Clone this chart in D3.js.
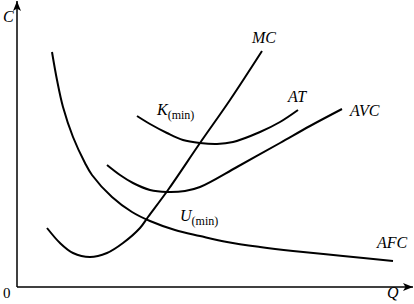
<!DOCTYPE html>
<html>
<head>
<meta charset="utf-8">
<script src="https://cdn.jsdelivr.net/npm/d3@7"></script>
<style>
  body { margin: 0; background: #fff; }
</style>
</head>
<body>
<div id="chart"></div>
<script>
// Cost curves (Q = quantity, C = cost, arbitrary units)
let afc = [[35,235],[40,207],[46,180],[56,150],[68,124],[75,112],[95,90],[115,75],
           [133,66],[158,57],[183,51],[210,45],[243,40],[276,36],[326,31],[376,26]];
let mc  = [[30,59],[43,44],[56,34],[73,30],[90,34],[106,44],[123,59],[131,70],
           [151,97],[183,144],[213,187],[245,236]];
let avc = [[90,122],[103,112],[116,104],[133,97],[150,95],[168,96],[183,100],
           [220,120],[263,144],[293,161],[325,178]];
let at  = [[120,171],[133,163],[150,154],[166,147],[183,144],[200,143],[216,145],
           [243,155],[263,165],[281,177]];

let curves = [afc, mc, avc, at];

// curve names and where they sit
let labels = [
  { text: "MC",  sub: "",      q: 235, c: 244 },
  { text: "AT",  sub: "",      q: 271, c: 185 },
  { text: "AVC", sub: "",      q: 333, c: 171 },
  { text: "K",   sub: "(min)", q: 140, c: 172 },
  { text: "U",   sub: "(min)", q: 163, c: 66 },
  { text: "AFC", sub: "",      q: 360, c: 39 }
];

let width = 414;
let height = 304;
let serif = "'Liberation Serif', 'Times New Roman', serif";

let svg = d3.select("#chart")
  .append("svg")
  .attr("width", width).attr("height", height)
  .style("font-family", serif);

let xScale = d3.scaleLinear().domain([0, 395]).range([17, 412]);
let yScale = d3.scaleLinear().domain([0, 284]).range([287, 3]);

// arrow heads
let defs = svg.append("defs");
defs.append("marker")
  .attr("id", "arrow")
  .attr("viewBox", "0 0 10 8")
  .attr("refX", 10).attr("refY", 4)
  .attr("markerWidth", 10).attr("markerHeight", 8)
  .attr("markerUnits", "userSpaceOnUse")
  .attr("orient", "auto")
  .append("path")
  .attr("d", "M0,0 L10,4 L0,8 L2.5,4 Z")
  .style("fill", "#000");

// axes
svg.append("line")
  .attr("x1", xScale(0)).attr("y1", yScale(0))
  .attr("x2", xScale(0)).attr("y2", yScale(286))
  .style("stroke", "#000").style("stroke-width", 1.5)
  .attr("marker-end", "url(#arrow)");

svg.append("line")
  .attr("x1", xScale(0)).attr("y1", yScale(0))
  .attr("x2", xScale(396)).attr("y2", yScale(0))
  .style("stroke", "#000").style("stroke-width", 1.5)
  .attr("marker-end", "url(#arrow)");

// curves
let line = d3.line()
  .x(function(d) { return xScale(d[0]); })
  .y(function(d) { return yScale(d[1]); })
  .curve(d3.curveCatmullRom.alpha(0.5));

svg.selectAll(".curve")
  .data(curves)
  .enter()
  .append("path")
  .attr("class", "curve")
  .attr("d", line)
  .style("fill", "none")
  .style("stroke", "#000")
  .style("stroke-width", 2);

// curve labels
let lab = svg.selectAll(".label")
  .data(labels)
  .enter()
  .append("text")
  .attr("class", "label")
  .attr("x", function(d) { return xScale(d.q); })
  .attr("y", function(d) { return yScale(d.c); })
  .attr("font-family", serif)
  .style("font-size", "16px");

lab.append("tspan")
  .style("font-style", "italic")
  .text(function(d) { return d.text; });

lab.append("tspan")
  .attr("dy", 4)
  .style("font-size", "12px")
  .text(function(d) { return d.sub; });

// axis names
svg.append("text")
  .attr("x", 3).attr("y", 22)
  .attr("font-family", serif)
  .style("font-size", "16px").style("font-style", "italic")
  .text("C");

svg.append("text")
  .attr("x", 387).attr("y", 298)
  .attr("font-family", serif)
  .style("font-size", "16px").style("font-style", "italic")
  .text("Q");

svg.append("text")
  .attr("x", 3).attr("y", 298)
  .attr("font-family", serif)
  .style("font-size", "15px")
  .text("0");
</script>
</body>
</html>
